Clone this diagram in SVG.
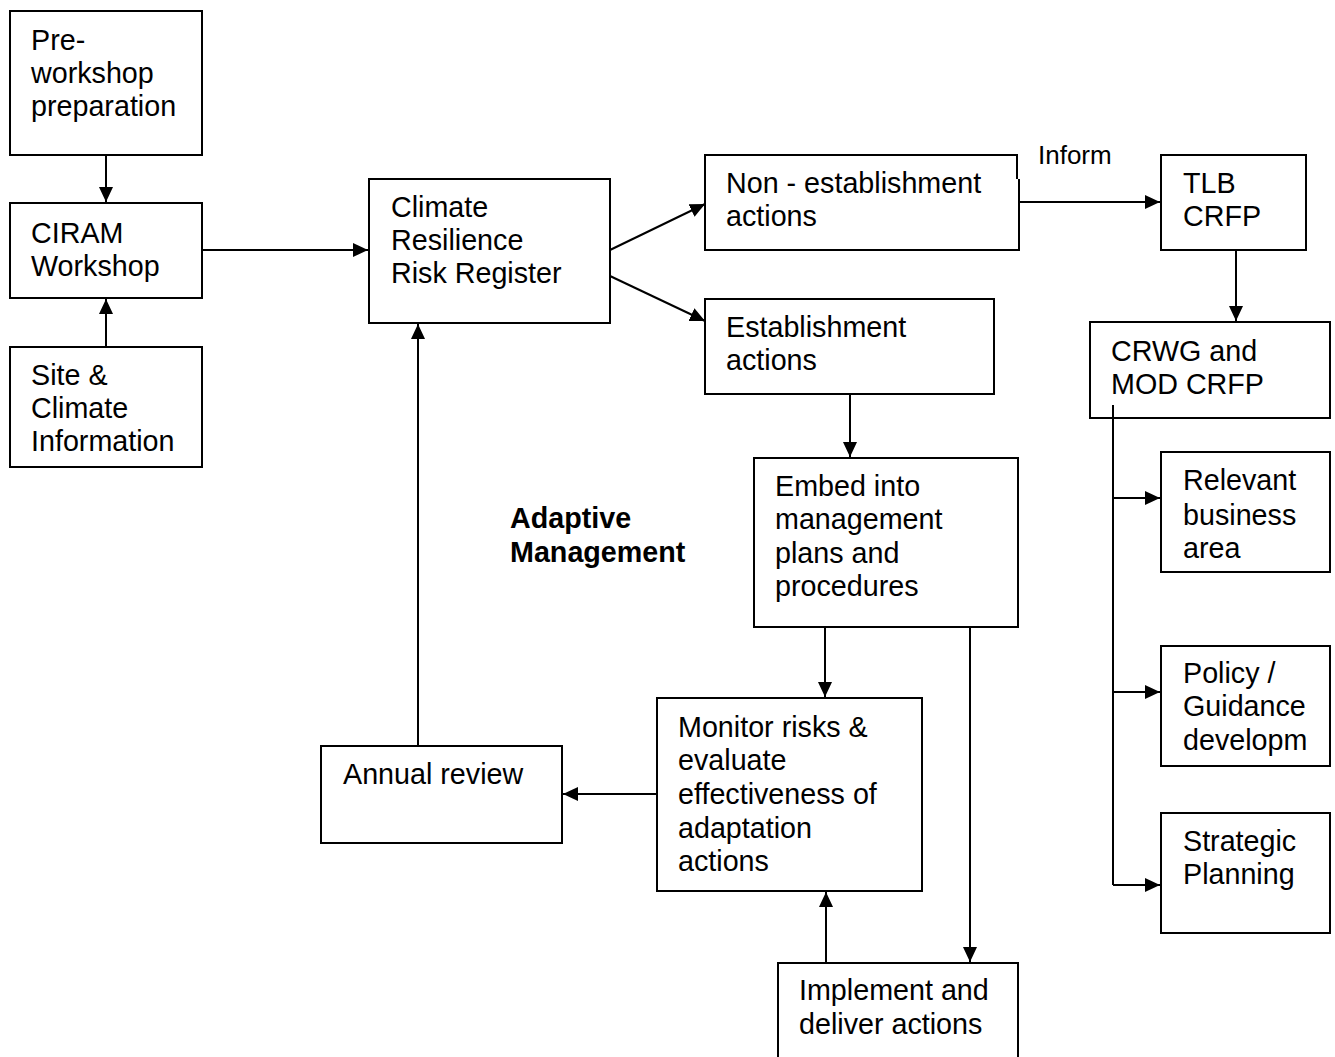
<svg xmlns="http://www.w3.org/2000/svg" width="1335" height="1057" viewBox="0 0 1335 1057">
<style>
.box{fill:#fff;stroke:#000;stroke-width:2}
.t{font-family:"Liberation Sans",Arial,sans-serif;font-size:28.7px;fill:#000}
.b{font-weight:bold}
.s{font-size:26px}
.c{stroke:#000;stroke-width:2;fill:none}
</style>
<defs>
<marker id="ah" markerUnits="userSpaceOnUse" markerWidth="16" markerHeight="16" refX="15" refY="8" orient="auto">
<path d="M0,1 L15,8 L0,15 Z" fill="#000"/>
</marker>
</defs>
<rect width="1335" height="1057" fill="#fff"/>
<g id="connectors">
<line class="c" x1="106" y1="155" x2="106" y2="202" marker-end="url(#ah)"/>
<line class="c" x1="106" y1="347" x2="106" y2="299" marker-end="url(#ah)"/>
<line class="c" x1="202" y1="250" x2="368" y2="250" marker-end="url(#ah)"/>
<line class="c" x1="610" y1="250" x2="705" y2="204" marker-end="url(#ah)"/>
<line class="c" x1="610" y1="276" x2="705" y2="321" marker-end="url(#ah)"/>
<line class="c" x1="1019" y1="202" x2="1160" y2="202" marker-end="url(#ah)"/>
<line class="c" x1="1236" y1="250" x2="1236" y2="321" marker-end="url(#ah)"/>
<line class="c" x1="850" y1="394" x2="850" y2="457" marker-end="url(#ah)"/>
<line class="c" x1="825" y1="627" x2="825" y2="697" marker-end="url(#ah)"/>
<line class="c" x1="970" y1="627" x2="970" y2="962" marker-end="url(#ah)"/>
<line class="c" x1="826" y1="963" x2="826" y2="892" marker-end="url(#ah)"/>
<line class="c" x1="659" y1="794" x2="563" y2="794" marker-end="url(#ah)"/>
<line class="c" x1="418" y1="746" x2="418" y2="324" marker-end="url(#ah)"/>
<line class="c" x1="1113" y1="405" x2="1113" y2="885"/>
<line class="c" x1="1113" y1="498" x2="1160" y2="498" marker-end="url(#ah)"/>
<line class="c" x1="1113" y1="692" x2="1160" y2="692" marker-end="url(#ah)"/>
<line class="c" x1="1113" y1="885" x2="1160" y2="885" marker-end="url(#ah)"/>
</g>
<g id="pre">
<rect class="box" x="10" y="11" width="192" height="144"/>
<text class="t" x="31" y="50">Pre-</text>
<text class="t" x="31" y="83">workshop</text>
<text class="t" x="31" y="116">preparation</text>
</g>
<g id="ciram">
<rect class="box" x="10" y="203" width="192" height="95"/>
<text class="t" x="31" y="243">CIRAM</text>
<text class="t" x="31" y="276">Workshop</text>
</g>
<g id="site">
<rect class="box" x="10" y="347" width="192" height="120"/>
<text class="t" x="31" y="385">Site &amp;</text>
<text class="t" x="31" y="418">Climate</text>
<text class="t" x="31" y="451">Information</text>
</g>
<g id="register">
<rect class="box" x="369" y="179" width="241" height="144"/>
<text class="t" x="391" y="217">Climate</text>
<text class="t" x="391" y="250">Resilience</text>
<text class="t" x="391" y="283">Risk Register</text>
</g>
<g id="nonest">
<rect x="705" y="155" width="313" height="95" fill="#fff"/>
<path class="c" d="M1017,179 V155 H705 V250 H1019 V179"/>
<text class="t" x="726" y="193">Non - establishment</text>
<text class="t" x="726" y="226">actions</text>
</g>
<text class="t s" x="1038" y="164">Inform</text>
<g id="tlb">
<rect class="box" x="1161" y="155" width="145" height="95"/>
<text class="t" x="1183" y="193">TLB</text>
<text class="t" x="1183" y="226">CRFP</text>
</g>
<g id="crwg">
<rect class="box" x="1090" y="322" width="240" height="96"/>
<text class="t" x="1111" y="361">CRWG and</text>
<text class="t" x="1111" y="394">MOD CRFP</text>
<line x1="1113" y1="405" x2="1113" y2="418" stroke="#000" stroke-width="2"/>
</g>
<g id="est">
<rect class="box" x="705" y="299" width="289" height="95"/>
<text class="t" x="726" y="337">Establishment</text>
<text class="t" x="726" y="370">actions</text>
</g>
<g id="embed">
<rect class="box" x="754" y="458" width="264" height="169"/>
<text class="t" x="775" y="496">Embed into</text>
<text class="t" x="775" y="529">management</text>
<text class="t" x="775" y="563">plans and</text>
<text class="t" x="775" y="596">procedures</text>
</g>
<g id="adaptive">
<text class="t b" x="510" y="528">Adaptive</text>
<text class="t b" x="510" y="562">Management</text>
</g>
<g id="monitor">
<rect class="box" x="657" y="698" width="265" height="193"/>
<text class="t" x="678" y="737">Monitor risks &amp;</text>
<text class="t" x="678" y="770">evaluate</text>
<text class="t" x="678" y="804">effectiveness of</text>
<text class="t" x="678" y="838">adaptation</text>
<text class="t" x="678" y="871">actions</text>
</g>
<g id="annual">
<rect class="box" x="321" y="746" width="241" height="97"/>
<text class="t" x="343" y="784">Annual review</text>
</g>
<g id="implement">
<rect class="box" x="778" y="963" width="240" height="110"/>
<text class="t" x="799" y="1000">Implement and</text>
<text class="t" x="799" y="1034">deliver actions</text>
</g>
<g id="relevant">
<rect class="box" x="1161" y="452" width="169" height="120"/>
<text class="t" x="1183" y="490">Relevant</text>
<text class="t" x="1183" y="525">business</text>
<text class="t" x="1183" y="558">area</text>
</g>
<g id="policy">
<rect class="box" x="1161" y="646" width="169" height="120"/>
<text class="t" x="1183" y="683">Policy /</text>
<text class="t" x="1183" y="716">Guidance</text>
<text class="t" x="1183" y="750">developm</text>
</g>
<g id="strategic">
<rect class="box" x="1161" y="813" width="169" height="120"/>
<text class="t" x="1183" y="851">Strategic</text>
<text class="t" x="1183" y="884">Planning</text>
</g>
</svg>
